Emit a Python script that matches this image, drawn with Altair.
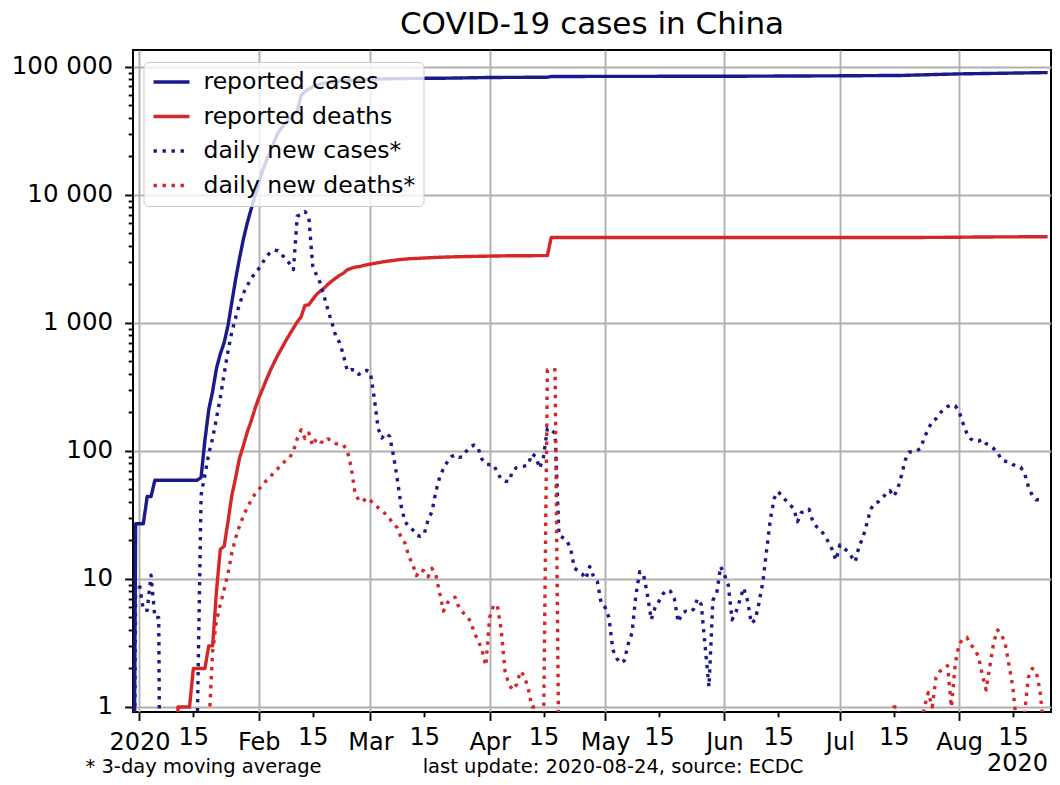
import altair as alt
import pandas as pd

BLUE = "#1a1a8c"
RED = "#d62728"
FONT = "DejaVu Sans"

series_names = ["reported cases", "reported deaths", "daily new cases*", "daily new deaths*"]

# day offsets are counted from 2020-01-01
cases_day = [-2, -1, 1, 2, 3, 4] + list(range(15, 61)) + [70, 80, 91, 106, 107, 121, 152, 182, 198, 213, 236]
cases_val = [0, 27, 27, 44, 44, 59,
             59, 62, 121, 210, 291, 440, 571, 700, 950, 1450,
             2200, 3200, 4500, 6000, 7700, 9700, 12500, 15500, 18500, 22000,
             26000, 30500, 33500, 36500, 39000, 42500, 44700, 59800, 64000, 67000,
             69500, 71500, 73000, 74300, 75000, 75600, 76300, 76900, 77200, 77700,
             78100, 78500, 78800, 79300, 79800, 80000,
             80900, 81300, 82300, 82700, 83750, 83960, 84130, 84800, 85400, 87800, 89900]

deaths_day = [9, 10, 13, 14, 17, 18, 19, 20] + list(range(21, 71)) + [72, 75, 78, 81, 85, 90, 95, 100, 106, 107, 200, 210, 220, 236]
deaths_val = [0, 1, 1, 2, 2, 3, 3, 8,
              17, 18, 28, 45, 62, 88, 110, 140, 170, 213,
              259, 304, 361, 425, 490, 563, 636, 722, 811, 908,
              1016, 1113, 1367, 1380, 1523, 1665, 1770, 1868, 2004, 2118,
              2236, 2345, 2442, 2592, 2663, 2715, 2744, 2788, 2835, 2870,
              2912, 2943, 2981, 3013, 3043, 3073, 3100, 3123, 3140, 3162,
              3180, 3217, 3249, 3270, 3292, 3312, 3333, 3340, 3346, 4632, 4634, 4650, 4680, 4700]

new_cases_day = list(range(-2, 236))
new_cases_val = [0, 9, 9, 5.7, 5.7, 10.7, 5, 5, 0, 0,
                 0, 0, 0, 0, 0, 0, 0, 0.7, 45, 65,
                 95, 125, 180, 260, 400, 600, 850, 1100, 1400, 1700,
                 1950, 2200, 2450, 2650, 2950, 3300, 3550, 3700, 3650, 3400,
                 3150, 2900, 2600, 6800, 7000, 7400, 6700, 2800, 2350, 2040,
                 1600, 1250, 1000, 790, 700, 560, 420, 430, 430, 395,
                 420, 425, 410, 260, 150, 126, 137, 130, 92, 60,
                 37, 28, 25.6, 24.2, 22, 21.5, 22.5, 29, 33.5, 48,
                 62, 73, 82, 90, 93, 89, 90, 100, 108, 111,
                 105, 86, 79, 78, 78, 68, 60, 58, 57.5, 70,
                 74, 75, 76, 78, 95, 90, 73, 90, 150, 146,
                 137, 22, 21, 20, 17.5, 12.2, 11.5, 11, 10, 12.5,
                 10.4, 9.5, 6.4, 6.0, 5.0, 2.8, 2.4, 2.2, 2.3, 3.1,
                 3.8, 7.5, 11.4, 10.8, 7.5, 4.8, 6.0, 6.7, 7.6, 8.2,
                 8.0, 7.0, 4.6, 5.4, 5.6, 5.5, 5.8, 7.0, 6.3, 2.96,
                 1.44, 6.8, 7.7, 12.5, 10.8, 9.0, 4.8, 5.5, 6.8, 8.5,
                 6.8, 4.5, 4.8, 6.5, 9.5, 17, 30, 43, 48, 44,
                 41, 38, 35.5, 28, 33, 33.5, 35, 28, 25.5, 24,
                 22, 19.5, 17, 14, 18.4, 17.3, 16.5, 15, 13.6, 18,
                 21, 27, 35, 39, 40, 43, 46, 49, 44, 50,
                 64, 85, 98, 98, 100, 105, 128, 148, 170, 178,
                 196, 212, 222, 228, 225, 202, 165, 137, 124, 119,
                 119, 123, 114, 110, 104, 97, 85, 83, 82, 78,
                 76, 74.5, 67, 52.5, 45, 41.5, 41.5, 43]

new_deaths_day = list(range(17, 110)) + list(range(195, 236))
new_deaths_val = [0, 0.67, 2.7, 4.7, 6.3, 8.3, 11, 16, 21, 26,
                  31, 36, 41, 46, 50, 54, 59, 63, 68, 73,
                  79, 84, 88, 100, 125, 146, 125, 138, 110, 125,
                  118, 115, 124, 120, 114, 112, 111, 100, 75, 47,
                  41, 40, 43, 41, 38, 36, 34, 32, 29.5, 27,
                  25, 21, 19, 15, 13, 10.6, 11.8, 11.5, 10.4, 12.1,
                  10.8, 7.8, 5.6, 6.5, 7.0, 7.2, 6.0, 5.5, 5.1, 4.7,
                  3.8, 3.3, 2.8, 2.1, 5.0, 6.2, 6.25, 4.0, 1.9, 1.5,
                  1.36, 1.5, 1.9, 1.75, 1.4, 1.0, 1.0, 0.67, 0.67, 430,
                  430, 430, 0.33,
                  0.67, 1, 1, 0.67, 0.67, 0.67, 0.67, 0.67, 0.67, 1.0,
                  1.3, 1.0, 1.7, 1.9, 2.0, 2.1, 1.0, 2.2, 3.1, 3.4,
                  3.5, 3.1, 2.8, 2.5, 1.8, 1.36, 2.1, 3.2, 4.0, 3.7,
                  3.1, 2.1, 1.4, 0.67, 0.33, 0.9, 1.7, 2.0, 1.9, 1.36,
                  0.67]

x_tick_months = list(range(1, 9))
footnote_left = "* 3-day moving average"
footnote_mid = "last update: 2020-08-24, source: ECDC"
offset_label = "2020"
title_text = "COVID-19 cases in China"

start = pd.Timestamp("2020-01-01")


def frame(days, vals, name):
    assert len(days) == len(vals), name
    return pd.DataFrame({
        "date": [(start + pd.Timedelta(days=d)).strftime("%Y-%m-%d") for d in days],
        "value": vals,
        "series": name,
    })


df = pd.concat([
    frame(cases_day, cases_val, series_names[0]),
    frame(deaths_day, deaths_val, series_names[1]),
    frame(new_cases_day, new_cases_val, series_names[2]),
    frame(new_deaths_day, new_deaths_val, series_names[3]),
], ignore_index=True)

y_values = [k * 10 ** e for e in range(6) for k in range(1, 10) if k * 10 ** e <= 130000]
x_values = ([alt.DateTime(year=2020, month=m, date=1, utc=True) for m in x_tick_months]
            + [alt.DateTime(year=2020, month=m, date=15, utc=True) for m in x_tick_months])

x_scale = alt.Scale(type="utc", domain=[
    alt.DateTime(year=2019, month=12, date=30, hours=7, minutes=30, utc=True),
    alt.DateTime(year=2020, month=8, date=24, hours=21, minutes=0, utc=True)])
y_scale = alt.Scale(type="log", domain=[0.914, 134900])

x_minor_test = "utcdate(datum.value) == 15"
y_minor_test = "indexof([1,10,100,1000,10000,100000], datum.value) < 0"

x_axis = alt.Axis(
    values=x_values, title=None, domain=False,
    labelExpr=("utcdate(datum.value) == 15 ? '15' : (utcmonth(datum.value) == 0 ? '2020' "
               ": utcFormat(datum.value, '%b'))"),
    tickSize={"condition": {"test": x_minor_test, "value": 4.8}, "value": 8.4},
    gridOpacity={"condition": {"test": x_minor_test, "value": 0}, "value": 1},
    labelPadding={"condition": {"test": x_minor_test, "value": 9}, "value": 10},
    labelFlush=False, labelOverlap=False,
)
y_axis = alt.Axis(
    values=y_values, title=None, domain=False,
    labelExpr=("datum.value == 100000 ? '100 000' : datum.value == 10000 ? '10 000' : "
               "datum.value == 1000 ? '1 000' : (indexof([1,10,100], datum.value) >= 0 ? datum.label : '')"),
    tickSize={"condition": {"test": y_minor_test, "value": 4.8}, "value": 8.4},
    gridOpacity={"condition": {"test": y_minor_test, "value": 0}, "value": 1},
    labelPadding=12, labelFontSize=24.5, labelOverlap=False, labelFlush=False,
)
y_axis_right = alt.Axis(
    orient="right", values=y_values, title=None, domain=False, labels=False, grid=False,
    tickSize={"condition": {"test": y_minor_test, "value": 4.8}, "value": 8.4},
)

legend = alt.Legend(
    title=None, orient="none", legendX=10.5, legendY=12,
    symbolType="stroke", symbolSize=1296, symbolStrokeWidth=3.4,
    labelFont=FONT, labelFontSize=23.5, labelColor="black", labelLimit=600,
    labelOffset=12, rowPadding=10.5, padding=8, clipHeight=24,
    fillColor="rgba(255,255,255,0.8)", strokeColor="#cccccc", cornerRadius=5,
)

color_scale = alt.Scale(domain=series_names, range=[BLUE, RED, BLUE, RED])
dash_scale = alt.Scale(domain=series_names, range=[[1, 0], [1, 0], [3.4, 5.6], [3.4, 5.6]])

base = alt.Chart(df).transform_calculate(v="max(datum.value, 0.0001)")

lines = base.mark_line(clip=True, strokeWidth=3.4, strokeJoin="round", strokeCap="butt").encode(
    x=alt.X("date:T", scale=x_scale, axis=x_axis),
    y=alt.Y("v:Q", scale=y_scale, axis=y_axis),
    color=alt.Color("series:N", scale=color_scale, legend=legend, title=None, sort=series_names),
    strokeDash=alt.StrokeDash("series:N", scale=dash_scale, legend=legend, title=None, sort=series_names),
)

right_axis = base.mark_line(opacity=0, clip=True).encode(
    x=alt.X("date:T", scale=x_scale),
    y=alt.Y("v:Q", scale=y_scale, axis=y_axis_right),
    detail="series:N",
)


def note(text, x, y, align, size):
    return alt.Chart(pd.DataFrame({"t": [text]})).mark_text(
        align=align, baseline="alphabetic", font=FONT, fontSize=size, color="black", clip=False
    ).encode(text="t:N", x=alt.value(x), y=alt.value(y))


chart = alt.layer(
    lines,
    right_axis,
    note(footnote_left, -47.5, 723, "left", 19.5),
    note(footnote_mid, 480, 723, "center", 19.5),
    note(offset_label, 915, 721, "right", 24),
).resolve_scale(y="independent").properties(
    width=918, height=662,
    title=alt.TitleParams(title_text, font=FONT, fontSize=31, fontWeight="normal",
                          color="black", anchor="middle", offset=9),
    padding={"left": 125, "top": 42, "right": 1, "bottom": 65},
    autosize=alt.AutoSizeParams(type="none"),
).configure_view(
    stroke="black", strokeWidth=2
).configure_axis(
    labelFont=FONT, labelFontSize=24, labelColor="black",
    tickColor="black", tickWidth=1.9, gridColor="#b0b0b0", gridWidth=1.9,
)

chart.save("out.html", embed_options={"renderer": "svg", "actions": False})
